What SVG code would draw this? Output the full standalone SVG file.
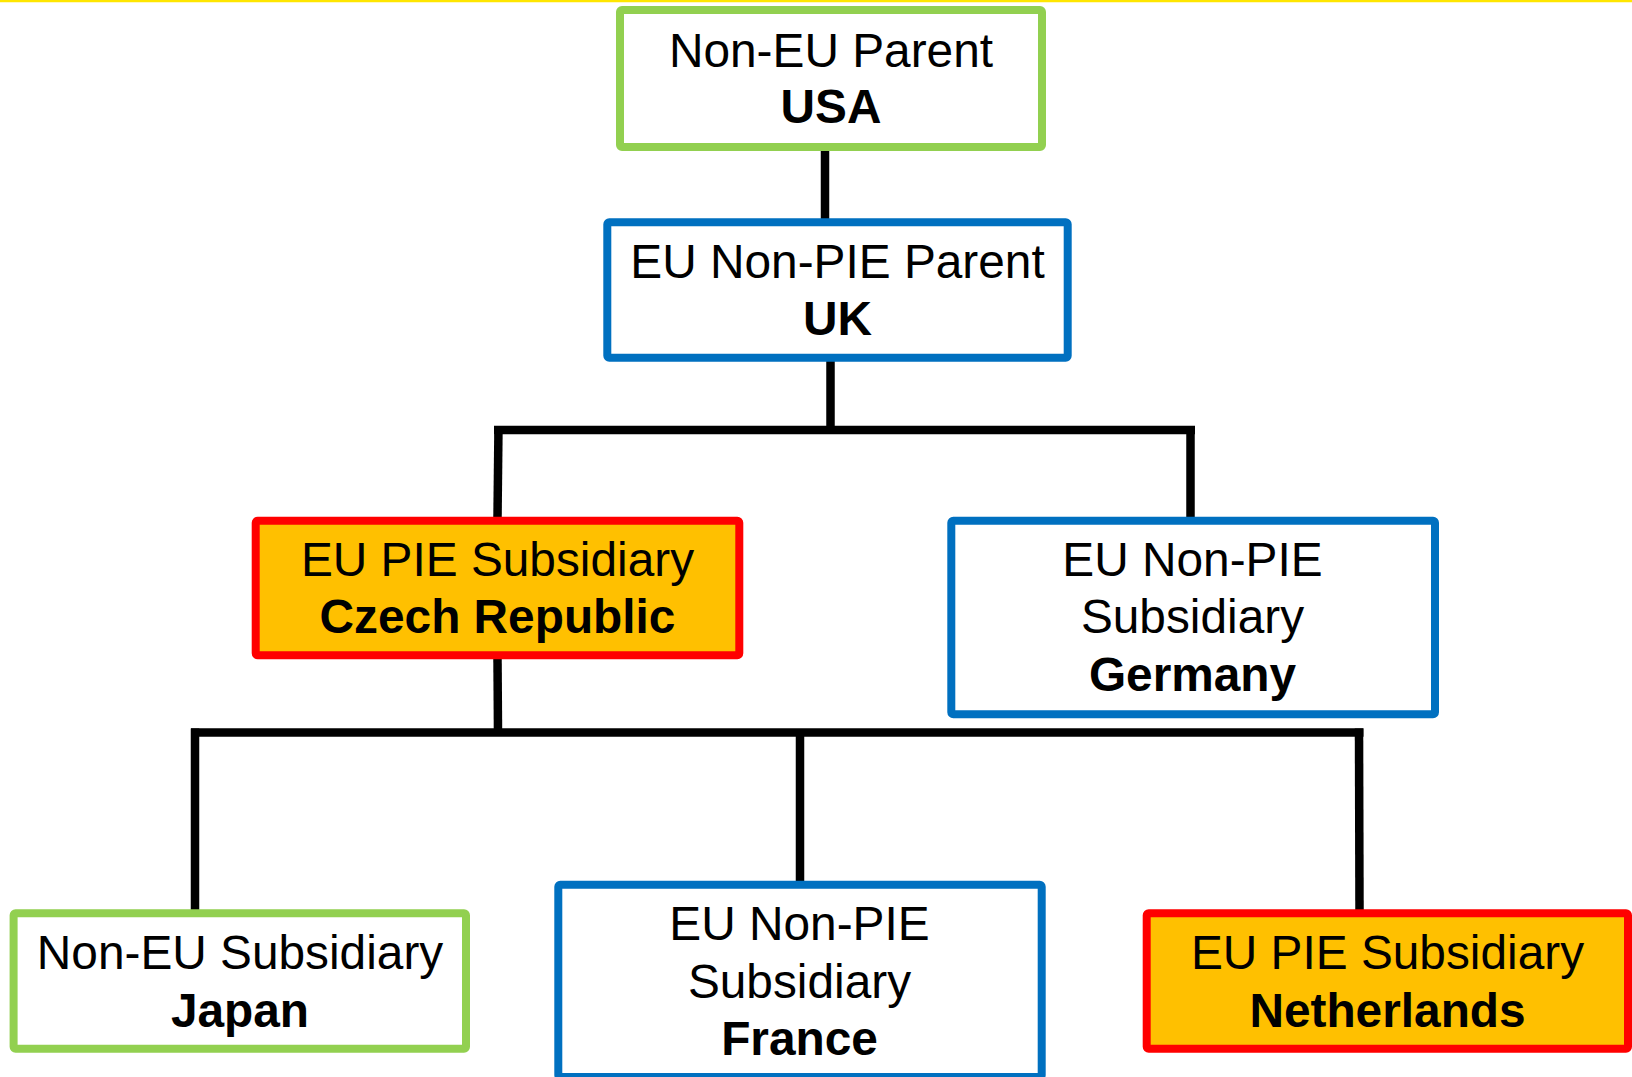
<svg xmlns="http://www.w3.org/2000/svg" width="1632" height="1077" viewBox="0 0 1632 1077">
  <style>
    .box { stroke-width: 8; }
    .green { fill: #FFFFFF; stroke: #92D050; }
    .blue { fill: #FFFFFF; stroke: #0070C0; }
    .red { fill: #FFC000; stroke: #FF0000; }
    text { font-size: 47.8px; fill: #000000; text-anchor: middle; }
    .b { font-weight: bold; }
    .conn line { stroke: #000000; stroke-width: 8.5; stroke-linecap: butt; }
  </style>
  <rect x="0" y="0" width="1632" height="1077" fill="#FFFFFF"/>
  <line x1="0" y1="1" x2="1632" y2="1" stroke="#FFE600" stroke-width="2.5"/>

  <g id="connectors" class="conn">
    <line x1="825" y1="150" x2="825" y2="219"/>
    <line x1="830.5" y1="361" x2="830.5" y2="431"/>
    <line x1="494" y1="430" x2="1195" y2="430"/>
    <line x1="498.5" y1="426" x2="497.5" y2="518"/>
    <line x1="1190.5" y1="426" x2="1190.5" y2="518"/>
    <line x1="497.5" y1="658" x2="498" y2="733"/>
    <line x1="191" y1="732.5" x2="1363.5" y2="732.5"/>
    <line x1="195" y1="728.5" x2="195" y2="910"/>
    <line x1="800" y1="732" x2="800" y2="882"/>
    <line x1="1359" y1="728.5" x2="1359.5" y2="910"/>
  </g>

  <g font-family="'Liberation Sans', Arial, Helvetica, sans-serif">
  <g id="node-usa">
    <rect class="box green" x="620" y="10" width="422" height="137" rx="2"/>
    <text x="831" y="66.7">Non-EU Parent</text>
    <text class="b" x="831" y="123.3">USA</text>
  </g>

  <g id="node-uk">
    <rect class="box blue" x="607.3" y="222.3" width="460.4" height="135.4" rx="2"/>
    <text x="837.5" y="278.3">EU Non-PIE Parent</text>
    <text class="b" x="837.5" y="335">UK</text>
  </g>

  <g id="node-czech">
    <rect class="box red" x="255.7" y="520.7" width="483.6" height="134.6" rx="2"/>
    <text x="497.5" y="576">EU PIE Subsidiary</text>
    <text class="b" x="497.5" y="633.3">Czech Republic</text>
  </g>

  <g id="node-germany">
    <rect class="box blue" x="951.3" y="520.7" width="483.7" height="193.6" rx="2"/>
    <text x="1192.5" y="576">EU Non-PIE</text>
    <text x="1192.5" y="633.3">Subsidiary</text>
    <text class="b" x="1192.5" y="690.7">Germany</text>
  </g>

  <g id="node-japan">
    <rect class="box green" x="13.6" y="913.3" width="452.4" height="135.4" rx="2"/>
    <text x="240" y="969.3">Non-EU Subsidiary</text>
    <text class="b" x="240" y="1026.7">Japan</text>
  </g>

  <g id="node-france">
    <rect class="box blue" x="558.3" y="884.7" width="483.4" height="192.3" rx="2"/>
    <text x="799.5" y="940">EU Non-PIE</text>
    <text x="799.5" y="997.7">Subsidiary</text>
    <text class="b" x="799.5" y="1055">France</text>
  </g>

  <g id="node-netherlands">
    <rect class="box red" x="1146.7" y="913.3" width="481.3" height="135.4" rx="2"/>
    <text x="1387.5" y="969.3">EU PIE Subsidiary</text>
    <text class="b" x="1387.5" y="1026.7">Netherlands</text>
  </g>
  </g>
</svg>
